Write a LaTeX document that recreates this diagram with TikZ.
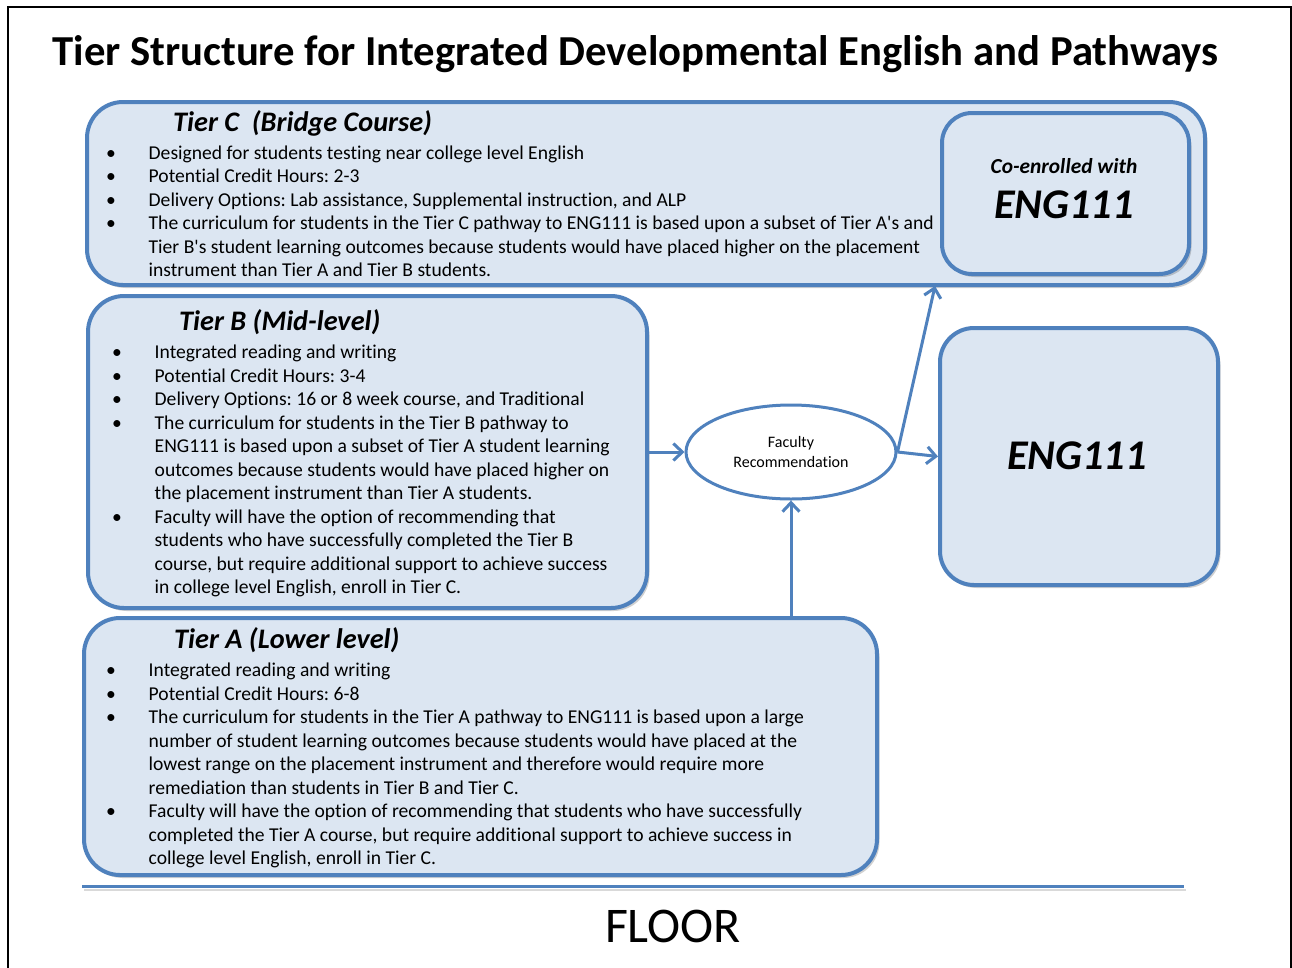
\documentclass[tikz,border=0pt]{standalone}
\usepackage{fontspec}
\setmainfont{Carlito}[Ligatures={NoCommon}]
\usetikzlibrary{arrows.meta,shadows,shapes.geometric}
\definecolor{boxfill}{HTML}{DCE6F2}
\definecolor{boxline}{HTML}{4F81BD}
\newcommand{\bodyfont}{\fontsize{19.6}{23.5}\selectfont}
\newcommand{\bul}{\textbullet}
\frenchspacing
\begin{document}
\begin{tikzpicture}[x=1pt,y=-1pt,
  tierbox/.style={draw=boxline, fill=boxfill, line width=4pt, rounded corners=36pt,
    anchor=north west, inner sep=0pt,
    drop shadow={shadow xshift=2.5pt, shadow yshift=-3pt, fill=black, opacity=0.18}},
  innerbox/.style={tierbox, rounded corners=30pt},
  arr/.style={draw=boxline, line width=3pt, -{Straight Barb[length=9pt,width=17pt]}},
  txt/.style={anchor=base west, inner sep=0pt, align=left, font=\bodyfont},
  tiertitle/.style={anchor=base west, inner sep=0pt, font=\fontsize{28.3}{34}\selectfont\bfseries\itshape},
]
\useasboundingbox (0,0) rectangle (1292,967);
\fill[white] (0,0) rectangle (1292,967);
% frame
\draw[line width=2pt] (8,968) -- (8,7) -- (1291,7) -- (1291,968);

% title
\node[anchor=base, inner sep=0pt, font=\fontsize{42.7}{48}\selectfont\bfseries] (title) at (635.5,65) {Tier Structure for Integrated Developmental English and Pathways};

% boxes
\node[tierbox, minimum width=1118pt, minimum height=183pt] (tc) at (85,100) {};
\node[innerbox, minimum width=247pt, minimum height=161pt] (co) at (940,111) {};
\node[tierbox, minimum width=559pt, minimum height=312pt] (tb) at (86,294) {};
\node[tierbox, minimum width=278pt, minimum height=257pt, rounded corners=34pt] (eng) at (938,326) {};
\node[tierbox, minimum width=793pt, minimum height=257pt] (ta) at (82,616) {};

% ellipse
\node[ellipse, draw=boxline, fill=white, line width=3pt, minimum width=210pt, minimum height=94pt, inner sep=0pt,
  align=center, font=\fontsize{16}{20}\selectfont] (fr) at (791,452) {Faculty\\Recommendation};

% tier C text
\node[tiertitle] (tct) at (173,131.7) {Tier C\ \ (Bridge Course)};
\node[txt] (tcl) at (105.8,159) {\begin{tabular}[t]{@{}p{42.7pt}@{}l@{}}
\bul & Designed for students testing near college level English\\
\bul & Potential Credit Hours: 2-3\\
\bul & Delivery Options: Lab assistance, Supplemental instruction, and ALP\\
\bul & The curriculum for students in the Tier C pathway to ENG111 is based upon a subset of Tier A\textquotesingle s and\\
 & Tier B\textquotesingle s student learning outcomes because students would have placed higher on the placement\\
 & instrument than Tier A and Tier B students.
\end{tabular}};

% co-enrolled text
\node[anchor=base, inner sep=0pt, font=\fontsize{21.4}{25}\selectfont\bfseries\itshape] (cot) at (1064,173.5) {Co-enrolled with};
\node[anchor=base, inner sep=0pt, font=\fontsize{42.3}{48}\selectfont\bfseries\itshape] (cot2) at (1064,218.5) {ENG111};

% ENG111 text
\node[anchor=base, inner sep=0pt, font=\fontsize{42.3}{48}\selectfont\bfseries\itshape] (engt) at (1077,469.5) {ENG111};

% tier B text
\node[tiertitle] (tbt) at (179,330) {Tier B (Mid-level)};
\node[txt] (tbl) at (111.8,358.7) {\begin{tabular}[t]{@{}p{42.7pt}@{}l@{}}
\bul & Integrated reading and writing\\
\bul & Potential Credit Hours: 3-4\\
\bul & Delivery Options: 16 or 8 week course, and Traditional\\
\bul & The curriculum for students in the Tier B pathway to\\
 & ENG111 is based upon a subset of Tier A student learning\\
 & outcomes because students would have placed higher on\\
 & the placement instrument than Tier A students.\\
\bul & Faculty will have the option of recommending that\\
 & students who have successfully completed the Tier B\\
 & course, but require additional support to achieve success\\
 & in college level English, enroll in Tier C.
\end{tabular}};

% tier A text
\node[tiertitle] (tat) at (174,648) {Tier A (Lower level)};
\node[txt] (tal) at (105.8,676.5) {\begin{tabular}[t]{@{}p{42.7pt}@{}l@{}}
\bul & Integrated reading and writing\\
\bul & Potential Credit Hours: 6-8\\
\bul & The curriculum for students in the Tier A pathway to ENG111 is based upon a large\\
 & number of student learning outcomes because students would have placed at the\\
 & lowest range on the placement instrument and therefore would require more\\
 & remediation than students in Tier B and Tier C.\\
\bul & Faculty will have the option of recommending that students who have successfully\\
 & completed the Tier A course, but require additional support to achieve success in\\
 & college level English, enroll in Tier C.
\end{tabular}};

% connectors
\coordinate (tcin) at (935,286);
\draw[arr] (tb.east) -- (fr.west);
\draw[arr] (fr.east) -- (eng.west);
\draw[arr] (fr.east) -- (tcin);
\draw[arr] (fr.south |- ta.north) -- (fr.south);

% floor
\draw[black, opacity=0.15, line width=2pt] (84,890) -- (1186,890);
\draw[boxline, line width=3.8pt] (82,886.5) -- (1184,886.5);
\node[anchor=base, inner sep=0pt, font=\fontsize{49.9}{56}\selectfont] (floor) at (673,942) {FLOOR};
\end{tikzpicture}
\end{document}
